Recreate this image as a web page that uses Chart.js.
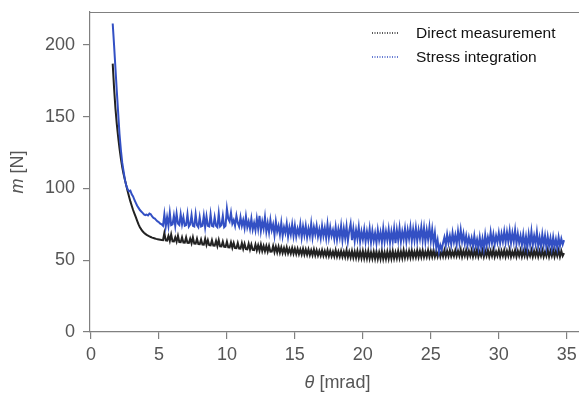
<!DOCTYPE html>
<html>
<head>
<meta charset="utf-8">
<script src="https://cdn.jsdelivr.net/npm/chart.js@4.4.1/dist/chart.umd.min.js"></script>
<style>
  html, body { margin: 0; padding: 0; background: #fff; }
  #wrap { width: 579px; height: 398px; }
</style>
</head>
<body>
<div id="wrap"><canvas id="lineChart" width="579" height="398"></canvas></div>
<script>
// theta [mrad] sample positions
var theta = [
  1.6,1.7,1.8,1.9,2.0,2.1,2.2,2.3,2.4,2.5,2.6,2.7,2.8,2.9,3.0,3.1,3.2,3.3,3.4,3.5,
  3.6,3.7,3.8,3.9,4.0,4.1,4.2,4.3,4.4,4.5,4.6,4.7,4.8,4.9,5.0,5.1,5.2,
  5.3,5.4,5.5,5.6,5.7,5.8,5.9,
  6.0,6.1,6.2,6.3,6.4,6.5,6.6,6.7,6.8,6.9,
  7.0,7.1,7.2,7.3,7.4,7.5,7.6,7.7,7.8,7.9,
  8.0,8.1,8.2,8.3,8.4,8.5,8.6,8.7,8.8,8.9,
  9.0,9.1,9.2,9.3,9.4,9.5,9.6,9.7,9.8,9.9,
  10.0,10.1,10.2,10.3,10.4,10.5,10.6,10.7,10.8,10.9,
  11.0,11.1,11.2,11.3,11.4,11.5,11.6,11.7,11.8,11.9,
  12.0,12.1,12.2,12.3,12.4,12.5,12.6,12.7,12.8,12.9,
  13.0,13.1,13.2,13.3,13.4,13.5,13.6,13.7,13.8,13.9,
  14.0,14.1,14.2,14.3,14.4,14.5,14.6,14.7,14.8,14.9,
  15.0,15.1,15.2,15.3,15.4,15.5,15.6,15.7,15.8,15.9,
  16.0,16.1,16.2,16.3,16.4,16.5,16.6,16.7,16.8,16.9,
  17.0,17.1,17.2,17.3,17.4,17.5,17.6,17.7,17.8,17.9,
  18.0,18.1,18.2,18.3,18.4,18.5,18.6,18.7,18.8,18.9,
  19.0,19.1,19.2,19.3,19.4,19.5,19.6,19.7,19.8,19.9,
  20.0,20.1,20.2,20.3,20.4,20.5,20.6,20.7,20.8,20.9,
  21.0,21.1,21.2,21.3,21.4,21.5,21.6,21.7,21.8,21.9,
  22.0,22.1,22.2,22.3,22.4,22.5,22.6,22.7,22.8,22.9,
  23.0,23.1,23.2,23.3,23.4,23.5,23.6,23.7,23.8,23.9,
  24.0,24.1,24.2,24.3,24.4,24.5,24.6,24.7,24.8,24.9,
  25.0,25.1,25.2,25.3,25.4,25.5,25.6,25.7,25.8,25.9,
  26.0,26.1,26.2,26.3,26.4,26.5,26.6,26.7,26.8,26.9,
  27.0,27.1,27.2,27.3,27.4,27.5,27.6,27.7,27.8,27.9,
  28.0,28.1,28.2,28.3,28.4,28.5,28.6,28.7,28.8,28.9,
  29.0,29.1,29.2,29.3,29.4,29.5,29.6,29.7,29.8,29.9,
  30.0,30.1,30.2,30.3,30.4,30.5,30.6,30.7,30.8,30.9,
  31.0,31.1,31.2,31.3,31.4,31.5,31.6,31.7,31.8,31.9,
  32.0,32.1,32.2,32.3,32.4,32.5,32.6,32.7,32.8,32.9,
  33.0,33.1,33.2,33.3,33.4,33.5,33.6,33.7,33.8,33.9,
  34.0,34.1,34.2,34.3,34.4,34.5,34.6,34.7,34.8
]

// direct measurement m [N]
var directMeasurement = [
  187,170,156,145,136,128,121,115,110,106,102,98,94.5,91,88,85,82.5,80,77.5,75,
  73,71.5,70.2,69.2,68.4,67.7,67.1,66.6,66.2,65.8,65.5,65.2,64.9,64.7,64.5,64.3,64.1,
  64,69,63.8,63.7,67,63.5,68,
  63.2,63.1,66,62.9,67,62.7,62.6,66,62.4,62.3,
  66,62.1,62,65,61.8,66,61.6,61.5,65,61.3,
  61.2,64.5,61,60.9,65,60.7,64,60.5,60.4,64,
  60.2,60.1,63.5,59.9,64,59.7,59.6,63,59.4,59.3,
  63,59,58.9,62.5,58.7,62,58.5,58.4,62,58.2,
  58.1,62,57.9,61.5,57.7,57.6,61.5,57.4,61,57.2,
  57.1,61,56.9,60.5,56.7,61,56.5,60,56.3,60,
  56.1,60,55.9,56,60,55.7,59.5,55.5,59.5,55.3,
  59,55.1,58.5,55,59,54.8,58,54.6,58.5,54.5,
  58,54.3,58,54.2,57.5,54,58,53.9,57.5,53.8,
  57.5,53.6,57,53.5,57.5,53.4,57,53.3,56.5,53.2,
  57,53.1,56.5,53,57,52.9,56.5,52.8,56,52.7,
  57,52.6,56,52.5,56.5,52.4,56,52.3,57,52.2,
  56,52,56.5,51.8,56,51.7,56.5,51.6,56,51.5,
  56.5,51.4,56,51.3,56.5,51.2,55.5,51.2,56,51.1,
  56,51,55.5,51,56.5,51,55.5,51,56,51.1,
  56,51.2,56.5,51.3,55.5,51.4,56.5,51.5,56,51.6,
  57,51.8,56,52,56.5,52,57,52.1,56,52.2,
  57,52.2,56.5,52.3,57,52.3,56,52.4,57,52.4,
  56.5,52.5,57,52.5,56,52.6,57,52.6,56.5,52.7,
  57,52.7,56.5,52.8,57,52.8,56,52.9,57,52.9,
  56.5,53,57.5,52.5,56.5,53,57,52.5,56.5,53,
  57,52.5,56.5,53,57.5,52.5,56,53,57,52.5,
  56.5,53,57,52.5,56.5,53,57.5,52.5,56,53,
  57,52.5,56.5,53,57,52.5,56.5,53,57.5,52.5,
  56,53,57,52.5,56.5,53,57,52.5,56.5,53,
  57.5,52.5,56,53,57,52.5,56.5,53,57,52.5,
  56.5,53,57,52.5,56,53,57.5,52.5,56.5,53,
  57,52.5,56.5,53,57,52.5,56.5,53,55
]

// stress integration m [N]
var stressIntegration = [
  215,200,184,168,153,138,127,118,112,106,102,99.5,98,98.5,96,94.5,92,90,88,86.5,
  85,84,83,82,81.5,81.8,81.2,82.5,82,80.5,79.5,79,78,77,76.5,75.5,75,
  74,82,73.5,80,74,83,74.5,
  75,81,74,82.5,75.5,74.5,82,75,80,74,
  74.5,82,73.5,75,81.5,74,73.5,82,74.5,73,
  80,73.5,74,81,73,80.5,74,73.5,82,74,
  73.5,80,74,73,82.5,73.5,74.5,81,73,74,
  86,79,77,83,75.5,78,74,81,76,73.5,
  80,74,78,72.5,80.5,73,77,72,79,71.5,
  76,71,79,72,81,70.5,77,72,80,70,
  76,69.5,78,71,75,67.5,77,70,74,68,
  76,67,73,69,75.5,66.5,73,68,75,67,
  74,66.5,72,68,75,66,73.5,67.5,74,66,
  72,67,75.5,66,73,68,74,66.5,71.5,65.5,
  74,67,72.5,65.5,75,66,73,67,71,65,
  73,64.5,71.5,66,74,64,72,65.5,73.5,63.5,
  70.5,75.5,64,72,63.5,71,65,73,63,70,
  64.5,71.5,63,70,64,72,62.5,70.5,63.5,69,
  62,71,64,69.5,62.5,72,63,70,64,71.5,
  62.5,70,63.5,72,62,71,64,72.5,63,70,
  64.5,72,63,71,65,73,63.5,71.5,64,72.5,
  63.5,71,65,73,64,72.5,63,71,64.5,73,
  63.5,71.5,62,69,59,64,56,60.5,57.5,62,
  66,60.5,68,62,67,61,69,62.5,67.5,61,
  70,62.5,71,63,68.5,61.5,67,60.5,66,61,
  65.5,59.5,67,60,64.5,58.5,66,59,65,58,
  67.5,60,66,61.5,69.5,62,68,61,67,62.5,
  69,62,68.5,63,70,62.5,69.5,63,70.5,62,
  69,63,71,61.5,68.5,62,67,60.5,68,60,
  66.5,59,68,61,70,60.5,67,61.5,69.5,60,
  66,59.5,68,60.5,67,59,66.5,60,65.5,58.5,
  66,59.5,64.5,58.5,66,60,65,61,64
]

var xTickValues = [0, 5, 10, 15, 20, 25, 30, 35]
var yTickValues = [0, 50, 100, 150, 200]
var seriesLabels = ['Direct measurement', 'Stress integration']
var seriesColors = ['#222222', '#3350c4']

var fontFamily = "'Liberation Sans', Arial, Helvetica, sans-serif"
var axisGray = '#808080'
var labelGray = '#555555'

function toPoints(xs, ys) {
    var pts = []
    var n = Math.min(xs.length, ys.length)
    for (var i = 0; i < n; i++) {
        pts.push({ x: xs[i], y: ys[i] })
    }
    return pts
}

// axis titles with italic symbol, top spine, dotted legend
var decorPlugin = {
    id: 'decor',
    afterDraw: function (chart) {
        var ctx = chart.ctx
        var area = chart.chartArea
        ctx.save()

        // top spine
        ctx.strokeStyle = axisGray
        ctx.lineWidth = 1.2
        ctx.beginPath()
        ctx.moveTo(area.left, area.top + 0.5)
        ctx.lineTo(area.right, area.top + 0.5)
        ctx.stroke()

        ctx.fillStyle = labelGray
        ctx.textBaseline = 'middle'

        // x title
        var italicX = 'italic 18px ' + fontFamily
        var normal18 = '18px ' + fontFamily
        ctx.font = italicX
        var w1 = ctx.measureText('\u03B8').width
        ctx.font = normal18
        var w2 = ctx.measureText(' [mrad]').width
        var cx = (area.left + area.right) / 2 + 3
        var sx = cx - (w1 + w2) / 2
        ctx.textAlign = 'left'
        ctx.font = italicX
        ctx.fillText('\u03B8', sx, 383)
        ctx.font = normal18
        ctx.fillText(' [mrad]', sx + w1, 383)

        // y title
        ctx.font = italicX
        var h1 = ctx.measureText('m').width
        ctx.font = normal18
        var h2 = ctx.measureText(' [N]').width
        ctx.translate(18, (area.top + area.bottom) / 2)
        ctx.rotate(-Math.PI / 2)
        var sy = -(h1 + h2) / 2
        ctx.font = italicX
        ctx.fillText('m', sy, 0)
        ctx.font = normal18
        ctx.fillText(' [N]', sy + h1, 0)
        ctx.restore()

        // legend
        ctx.save()
        ctx.font = '15.5px ' + fontFamily
        ctx.textBaseline = 'middle'
        ctx.textAlign = 'left'
        var rows = [33, 57]
        for (var i = 0; i < seriesLabels.length; i++) {
            ctx.strokeStyle = seriesColors[i]
            ctx.lineWidth = 1.5
            ctx.setLineDash([1, 1.5])
            ctx.beginPath()
            ctx.moveTo(372, rows[i])
            ctx.lineTo(398, rows[i])
            ctx.stroke()
            ctx.setLineDash([])
            ctx.fillStyle = '#111111'
            ctx.fillText(seriesLabels[i], 416, rows[i] + 1)
        }
        ctx.restore()
    }
}

var lineCanvas = document.getElementById('lineChart').getContext('2d')

var lineChart = new Chart(lineCanvas, {
    type: 'line',
    data: {
        datasets: [
            {
                label: seriesLabels[1],
                data: toPoints(theta, stressIntegration),
                borderColor: seriesColors[1],
                borderWidth: 2,
                pointRadius: 0,
                tension: 0,
                fill: false,
                order: 0
            },
            {
                label: seriesLabels[0],
                data: toPoints(theta, directMeasurement),
                borderColor: seriesColors[0],
                borderWidth: 2,
                pointRadius: 0,
                tension: 0,
                fill: false,
                order: 1
            }
        ]
    },
    options: {
        responsive: false,
        animation: false,
        events: [],
        layout: { padding: { top: 12, right: 0, left: 0, bottom: 0 } },
        plugins: {
            legend: { display: false },
            tooltip: { enabled: false }
        },
        scales: {
            x: {
                type: 'linear',
                min: -0.07,
                max: 35.9,
                afterBuildTicks: function (scale) {
                    scale.ticks = xTickValues.map(function (v) { return { value: v } })
                },
                afterFit: function (scale) {
                    scale.height = 66
                    scale.paddingLeft = 0
                    scale.paddingRight = 0
                },
                border: { display: true, color: axisGray, width: 1.2 },
                grid: { display: true, drawOnChartArea: false, drawTicks: true, tickLength: 7, color: axisGray, lineWidth: 1.2 },
                ticks: { color: labelGray, padding: 5, maxRotation: 0, font: { family: fontFamily, size: 18 } }
            },
            y: {
                type: 'linear',
                min: 0,
                max: 223,
                afterBuildTicks: function (scale) {
                    scale.ticks = yTickValues.map(function (v) { return { value: v } })
                },
                afterFit: function (scale) {
                    scale.width = 90
                    scale.paddingTop = 0
                    scale.paddingBottom = 0
                },
                border: { display: true, color: axisGray, width: 1.2 },
                grid: { display: true, drawOnChartArea: false, drawTicks: true, tickLength: 7, color: axisGray, lineWidth: 1.2 },
                ticks: { color: labelGray, padding: 8, font: { family: fontFamily, size: 18 } }
            }
        }
    },
    plugins: [decorPlugin]
})
</script>
</body>
</html>
